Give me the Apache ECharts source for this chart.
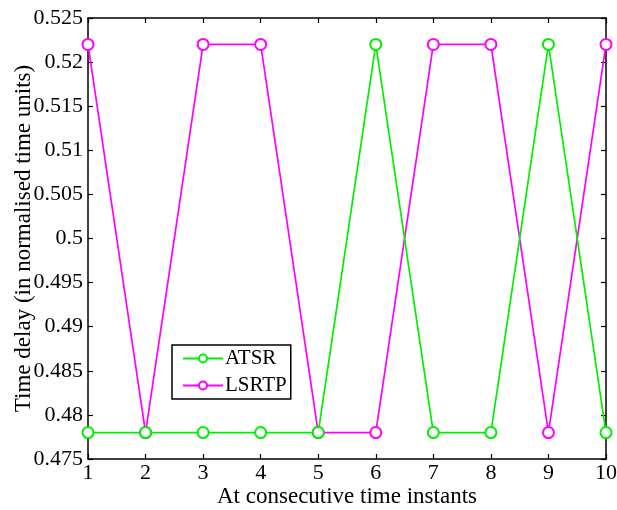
<!DOCTYPE html>
<html><head><meta charset="utf-8">
<script src="https://cdn.jsdelivr.net/npm/echarts@6/dist/echarts.min.js"></script>
<style>html,body{margin:0;padding:0;background:#fff}#c{width:617px;height:510px}</style>
</head><body><div id="c"></div>
<script>
const xValues = [1,2,3,4,5,6,7,8,9,10];
const atsr  = [0.478,0.478,0.478,0.478,0.478,0.522,0.478,0.478,0.522,0.478];
const lsrtp = [0.522,0.478,0.522,0.522,0.478,0.478,0.522,0.522,0.478,0.522];
const yTicks = [0.475,0.48,0.485,0.49,0.495,0.5,0.505,0.51,0.515,0.52,0.525];

const font = 'Liberation Serif';
const chart = echarts.init(document.getElementById('c'));
const axisLine = {show:true, lineStyle:{color:'#000', width:1.5}};
const tick = {show:true, inside:true, length:5, lineStyle:{color:'#000', width:1.2}};
function pairs(ys){ return xValues.map((x,i)=>[x, ys[i]]); }
chart.setOption({
  animation:false,
  grid:{left:88, right:11, top:18, bottom:51, containLabel:false, outerBoundsMode:'none'},
  legend:{
    orient:'vertical', left:172, top:345,
    backgroundColor:'#fff', borderColor:'#000', borderWidth:1.5,
    padding:[3,4,3,10], itemGap:6, itemWidth:40, itemHeight:10,
    textStyle:{fontFamily:font, fontSize:21, color:'#000', padding:[0,0,0,-3]},
    data:['ATSR','LSRTP']
  },
  xAxis:[
    {type:'value', min:1, max:10, interval:1, axisLine, axisTick:tick, splitLine:{show:false},
     axisLabel:{fontFamily:font, fontSize:22, color:'#000', margin:3},
     name:'At consecutive time instants', nameLocation:'middle', nameGap:26, nameMoveOverlap:false,
     nameTextStyle:{fontFamily:font, fontSize:23, color:'#000'}},
    {type:'value', position:'top', min:1, max:10, interval:1, axisLine, axisTick:tick, axisLabel:{show:false}, splitLine:{show:false}}
  ],
  yAxis:[
    {type:'value', min:0.475, max:0.525, interval:0.005, axisLine, axisTick:tick, splitLine:{show:false},
     axisLabel:{fontFamily:font, fontSize:22, color:'#000', margin:5,
       formatter:v=>String(parseFloat(v.toFixed(3)))},
     name:'Time delay (in normalised time units)', nameLocation:'middle', nameGap:53, nameMoveOverlap:false,
     nameTextStyle:{fontFamily:font, fontSize:23, color:'#000'}},
    {type:'value', position:'right', min:0.475, max:0.525, interval:0.005, axisLine, axisTick:tick, axisLabel:{show:false}, splitLine:{show:false}}
  ],
  series:[
    {name:'ATSR', type:'line', data:pairs(atsr), symbol:'emptyCircle', symbolSize:11,
     lineStyle:{color:'#00ee00', width:1.7}, itemStyle:{color:'#00ee00', borderWidth:1.7}, z:3},
    {name:'LSRTP', type:'line', data:pairs(lsrtp), symbol:'emptyCircle', symbolSize:11,
     lineStyle:{color:'#ff00ff', width:1.7}, itemStyle:{color:'#ff00ff', borderWidth:1.7}, z:2}
  ]
});
</script></body></html>
